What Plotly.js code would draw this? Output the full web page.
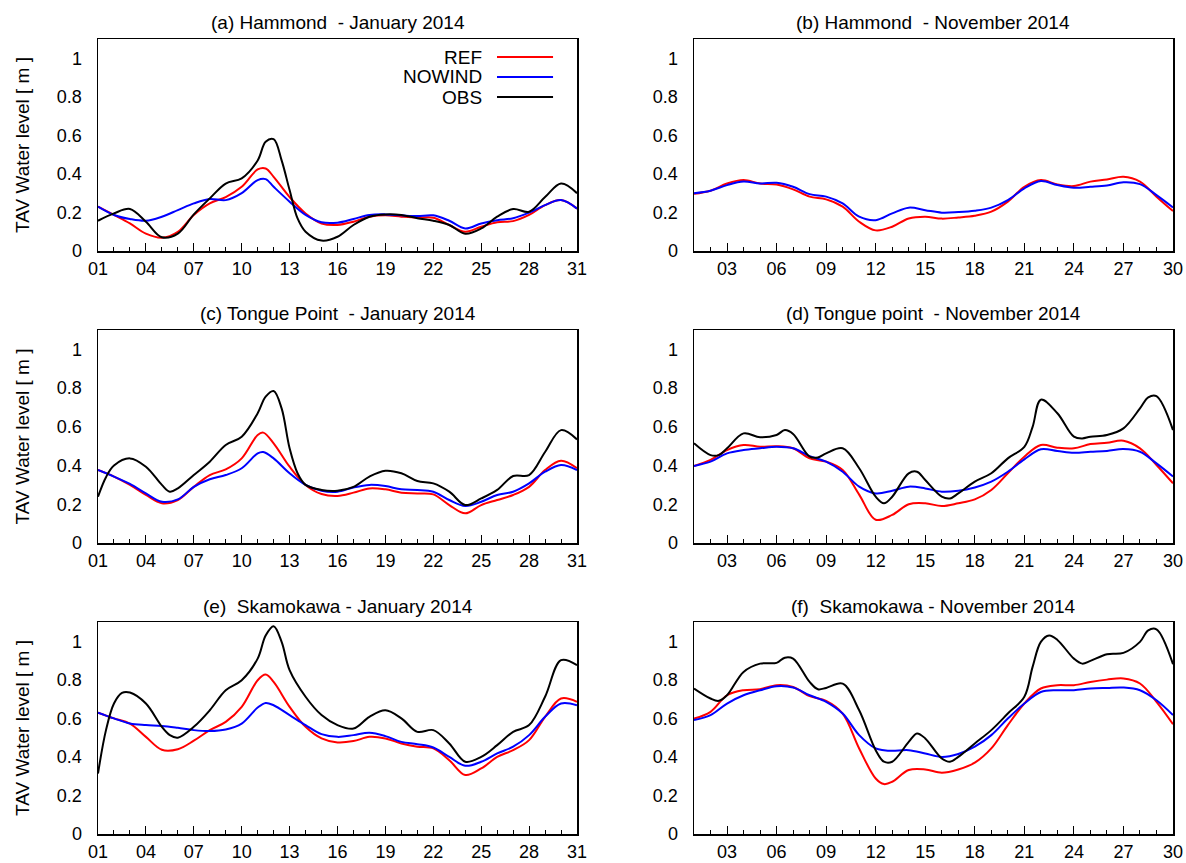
<!DOCTYPE html>
<html>
<head>
<meta charset="utf-8">
<script src="https://cdn.plot.ly/plotly-3.0.1.min.js"></script>
<style>html,body{margin:0;padding:0;background:#fff;}#chart{width:1186px;height:863px;}</style>
</head>
<body>
<div id="chart"></div>
<script>
// ---------- Data ----------
const seriesNames = ["REF", "NOWIND", "OBS"];
const panelTitles = [
  "(a) Hammond  - January 2014",
  "(b) Hammond  - November 2014",
  "(c) Tongue Point  - January 2014",
  "(d) Tongue point  - November 2014",
  "(e)  Skamokawa - January 2014",
  "(f)  Skamokawa - November 2014"
];
const yAxisTitle = "TAV Water level [ m ]";

const janTickVals = [1, 4, 7, 10, 13, 16, 19, 22, 25, 28, 31];
const janTickText = ["01", "04", "07", "10", "13", "16", "19", "22", "25", "28", "31"];
const novTickVals = [3, 6, 9, 12, 15, 18, 21, 24, 27, 30];
const novTickText = ["03", "06", "09", "12", "15", "18", "21", "24", "27", "30"];
const yTickVals = [0, 0.2, 0.4, 0.6, 0.8, 1];
const yTickText = ["0", "0.2", "0.4", "0.6", "0.8", "1"];

// (a) Hammond - January 2014
const aModelDays = [1,2,3,4,5,6,7,8,9,10,11,11.5,12,13,14,15,16,17,18,19,20,21,22,23,24,25,26,27,28,29,30,31];
const aRef = [0.23,0.187,0.143,0.09,0.069,0.10,0.187,0.247,0.28,0.333,0.423,0.428,0.385,0.28,0.195,0.143,0.135,0.152,0.178,0.185,0.178,0.173,0.173,0.135,0.10,0.126,0.149,0.155,0.187,0.238,0.264,0.22];
const aNowind = [0.23,0.187,0.166,0.157,0.178,0.212,0.247,0.27,0.264,0.30,0.368,0.373,0.333,0.256,0.187,0.149,0.147,0.166,0.187,0.19,0.185,0.181,0.185,0.157,0.117,0.143,0.16,0.17,0.199,0.238,0.264,0.22];
const aObsDays = [1,2,3,4,5,6,7,8,9,10,11,11.5,12,12.5,13,13.5,14,15,16,17,18,19,20,21,22,23,24,25,26,27,28,29,30,31];
const aObs = [0.157,0.195,0.218,0.152,0.071,0.09,0.19,0.273,0.35,0.377,0.47,0.567,0.58,0.47,0.316,0.169,0.10,0.054,0.074,0.135,0.178,0.19,0.187,0.17,0.157,0.135,0.09,0.117,0.178,0.218,0.204,0.28,0.35,0.30];

// (b) Hammond - November 2014
const bDays = [1,2,3,4,5,6,7,8,9,10,11,12,13,14,15,16,17,18,19,20,21,22,23,24,25,26,27,28,29,30];
const bRef = [0.297,0.313,0.35,0.368,0.35,0.345,0.32,0.282,0.268,0.23,0.152,0.107,0.126,0.169,0.178,0.168,0.174,0.183,0.204,0.256,0.333,0.368,0.345,0.337,0.36,0.371,0.385,0.36,0.282,0.207];
const bNowind = [0.30,0.313,0.342,0.36,0.35,0.354,0.333,0.295,0.282,0.247,0.178,0.16,0.195,0.225,0.212,0.199,0.202,0.209,0.225,0.264,0.325,0.363,0.342,0.328,0.333,0.34,0.357,0.347,0.29,0.226];

// (c) Tongue Point - January 2014
const cModelDays = [1,2,3,4,5,6,7,8,9,10,11,11.35,12,13,14,15,16,17,18,19,20,21,22,23,24,25,26,27,28,29,30,31];
const cRef = [0.377,0.343,0.30,0.248,0.205,0.222,0.29,0.351,0.38,0.437,0.558,0.57,0.515,0.394,0.30,0.253,0.243,0.26,0.282,0.277,0.26,0.256,0.251,0.196,0.153,0.196,0.222,0.248,0.29,0.377,0.425,0.386];
const cNowind = [0.377,0.343,0.305,0.256,0.213,0.225,0.29,0.329,0.351,0.386,0.463,0.47,0.437,0.36,0.30,0.27,0.265,0.287,0.30,0.294,0.277,0.274,0.265,0.222,0.191,0.213,0.248,0.265,0.308,0.368,0.403,0.377];
const cObsDays = [1,1.5,2,3,4,5,5.5,6,7,8,9,10,11,11.5,12,12.5,13,13.5,14,15,16,17,18,19,20,21,22,23,24,25,26,27,28,29,30,31];
const cObs = [0.239,0.34,0.40,0.437,0.394,0.30,0.265,0.282,0.351,0.42,0.506,0.549,0.67,0.756,0.785,0.695,0.489,0.36,0.30,0.274,0.27,0.29,0.343,0.373,0.36,0.32,0.308,0.265,0.196,0.23,0.274,0.346,0.351,0.47,0.583,0.535];

// (d) Tongue point - November 2014
const dDays = [1,2,3,4,5,6,7,8,9,10,11,12,13,14,15,16,17,18,19,20,21,22,23,24,25,26,27,28,29,30];
const dRef = [0.398,0.429,0.48,0.506,0.497,0.50,0.489,0.437,0.42,0.377,0.25,0.12,0.145,0.20,0.205,0.191,0.205,0.225,0.274,0.36,0.446,0.506,0.492,0.489,0.511,0.518,0.528,0.489,0.403,0.308];
const dNowind = [0.398,0.42,0.463,0.48,0.489,0.497,0.489,0.449,0.42,0.368,0.291,0.256,0.27,0.291,0.282,0.265,0.27,0.287,0.317,0.368,0.432,0.484,0.475,0.466,0.471,0.475,0.485,0.471,0.411,0.343];
const dObsDays = [1,2,2.5,3,4,5,6,6.5,7,8,8.5,9,10,11,12,12.5,13,14,14.5,15,16,16.5,17,18,19,20,21,21.5,22,23,24,24.5,25,26,27,28,28.5,29,30];
const dObs = [0.515,0.454,0.454,0.489,0.566,0.546,0.558,0.583,0.563,0.446,0.442,0.463,0.489,0.386,0.239,0.205,0.239,0.36,0.368,0.325,0.239,0.23,0.256,0.317,0.36,0.437,0.497,0.60,0.74,0.67,0.549,0.54,0.549,0.558,0.592,0.695,0.752,0.758,0.583];

// (e) Skamokawa - January 2014
const eModelDays = [1,2,3,4,5,6,7,8,9,10,11,11.5,12,13,14,15,16,17,18,19,20,21,22,23,24,25,26,27,28,29,30,31];
const eRef = [0.63,0.60,0.573,0.504,0.437,0.44,0.484,0.539,0.582,0.66,0.798,0.827,0.789,0.66,0.556,0.496,0.475,0.482,0.504,0.496,0.47,0.453,0.444,0.383,0.306,0.34,0.40,0.435,0.487,0.608,0.703,0.686];
const eNowind = [0.63,0.60,0.573,0.565,0.561,0.551,0.539,0.534,0.542,0.573,0.656,0.68,0.668,0.617,0.565,0.518,0.504,0.513,0.525,0.508,0.478,0.466,0.449,0.40,0.354,0.375,0.418,0.453,0.513,0.608,0.677,0.668];
const eObsDays = [1,1.5,2,2.5,3,4,5,5.5,6,7,8,9,10,11,11.5,12,12.5,13,14,15,16,17,18,19,20,21,22,23,24,25,26,27,28,29,30,31];
const eObs = [0.314,0.539,0.677,0.732,0.734,0.677,0.556,0.513,0.50,0.556,0.642,0.746,0.798,0.91,1.03,1.078,0.997,0.85,0.712,0.617,0.565,0.547,0.608,0.642,0.60,0.53,0.539,0.47,0.375,0.40,0.461,0.53,0.565,0.712,0.902,0.876];

// (f) Skamokawa - November 2014
const fModelDays = [1,2,3,4,5,6,7,8,9,10,11,12,12.5,13,14,15,16,17,18,19,20,21,22,23,24,25,26,27,28,29,30];
const fRef = [0.599,0.634,0.72,0.746,0.751,0.772,0.763,0.715,0.691,0.625,0.444,0.288,0.259,0.271,0.332,0.335,0.318,0.335,0.37,0.444,0.565,0.677,0.755,0.772,0.772,0.789,0.801,0.807,0.781,0.686,0.57];
const fNowind = [0.591,0.617,0.677,0.72,0.746,0.767,0.76,0.72,0.686,0.625,0.513,0.444,0.435,0.432,0.435,0.418,0.40,0.415,0.453,0.513,0.599,0.677,0.737,0.746,0.746,0.755,0.758,0.76,0.746,0.694,0.617];
const fObsDays = [1,2,2.5,3,4,5,6,6.5,7,8,8.5,9,10,11,12,12.5,13,14,14.5,15,16,16.5,17,18,19,20,21,21.5,22,22.5,23,24,24.5,25,26,27,28,28.5,29,30];
const fObs = [0.755,0.703,0.691,0.72,0.841,0.884,0.888,0.915,0.91,0.789,0.751,0.758,0.78,0.642,0.435,0.375,0.375,0.478,0.522,0.496,0.392,0.375,0.40,0.47,0.539,0.625,0.712,0.867,0.997,1.03,1.007,0.91,0.884,0.898,0.933,0.94,0.997,1.057,1.062,0.881];

// ---------- Styling ----------
const colors = { REF: "#ff0000", NOWIND: "#0000ff", OBS: "#000000" };
const FONT = "Liberation Sans, Arial, Helvetica, sans-serif";
const FS = 19;
const TICKFS = 18;

const panels = [
  { ref: [aModelDays, aRef], now: [aModelDays, aNowind], obs: [aObsDays, aObs], jan: true },
  { ref: [bDays, bRef], now: [bDays, bNowind], obs: null, jan: false },
  { ref: [cModelDays, cRef], now: [cModelDays, cNowind], obs: [cObsDays, cObs], jan: true },
  { ref: [dDays, dRef], now: [dDays, dNowind], obs: [dObsDays, dObs], jan: false },
  { ref: [eModelDays, eRef], now: [eModelDays, eNowind], obs: [eObsDays, eObs], jan: true },
  { ref: [fModelDays, fRef], now: [fModelDays, fNowind], obs: [fObsDays, fObs], jan: false }
];

// plot-area domains in paper fractions (from the 1186x863 reference)
const W = 1186, H = 863;
const colDom = [[98 / W, 577 / W], [694 / W, 1173 / W]];
const rowDom = [[1 - 251 / H, 1 - 39 / H], [1 - 543 / H, 1 - 330 / H], [1 - 834 / H, 1 - 622 / H]];

const traces = [];
const layout = {
  width: W, height: H,
  margin: { l: 0, r: 0, t: 0, b: 0 },
  paper_bgcolor: "#fff", plot_bgcolor: "#fff",
  showlegend: false,
  font: { family: FONT, size: FS, color: "#000" },
  annotations: [], shapes: []
};

panels.forEach((p, i) => {
  const n = i + 1;
  const xa = n === 1 ? "x" : "x" + n;
  const ya = n === 1 ? "y" : "y" + n;
  const col = i % 2, row = Math.floor(i / 2);
  const line = (c) => ({ color: c, width: 2, shape: "spline", smoothing: 1 });
  traces.push({ x: p.ref[0], y: p.ref[1], name: "REF", type: "scatter", mode: "lines", line: line(colors.REF), xaxis: xa, yaxis: ya });
  traces.push({ x: p.now[0], y: p.now[1], name: "NOWIND", type: "scatter", mode: "lines", line: line(colors.NOWIND), xaxis: xa, yaxis: ya });
  if (p.obs) traces.push({ x: p.obs[0], y: p.obs[1], name: "OBS", type: "scatter", mode: "lines", line: line(colors.OBS), xaxis: xa, yaxis: ya });

  layout["xaxis" + (n === 1 ? "" : n)] = {
    domain: colDom[col], anchor: ya,
    range: p.jan ? [1, 31] : [1, 30],
    tickmode: "array",
    tickvals: p.jan ? janTickVals : novTickVals,
    ticktext: p.jan ? janTickText : novTickText,
    ticks: "inside", ticklen: 8, tickwidth: 1, tickcolor: "#000",
    minor: { tick0: 1, dtick: 1, ticks: "inside", ticklen: 4, tickwidth: 1, tickcolor: "#000", showgrid: false },
    showline: true, mirror: true, linecolor: "#000", linewidth: 1.5,
    showgrid: false, zeroline: false,
    tickfont: { family: FONT, size: TICKFS, color: "#000" },
    ticklabelstandoff: 1
  };
  layout["yaxis" + (n === 1 ? "" : n)] = {
    domain: rowDom[row], anchor: xa,
    range: [0, 1.1],
    tickmode: "array", tickvals: yTickVals, ticktext: yTickText,
    ticks: "",
    showline: true, mirror: true, linecolor: "#000", linewidth: 1.5,
    showgrid: false, zeroline: false,
    tickfont: { family: FONT, size: TICKFS, color: "#000" },
    ticklabelstandoff: 11,
    title: col === 0 ? { text: yAxisTitle, font: { family: FONT, size: FS, color: "#000" }, standoff: 22 } : { text: "" }
  };
  layout.annotations.push({
    text: panelTitles[i], showarrow: false,
    xref: xa + " domain", yref: ya + " domain", x: 0.5, y: 1,
    xanchor: "center", yanchor: "middle", yshift: 16,
    font: { family: FONT, size: FS, color: "#000" }
  });
});

// legend (text to the left of line samples) inside panel (a)
const legendY = [0.915, 0.821, 0.726];
seriesNames.forEach((s, k) => {
  layout.annotations.push({
    text: s, showarrow: false, xref: "x domain", yref: "y domain",
    x: 0.806, y: legendY[k], xanchor: "right", yanchor: "middle",
    font: { family: FONT, size: FS, color: "#000" }
  });
  layout.shapes.push({
    type: "line", xref: "x domain", yref: "y domain",
    x0: 0.833, x1: 0.95, y0: legendY[k], y1: legendY[k],
    line: { color: colors[s], width: 2 }
  });
});

Plotly.newPlot("chart", traces, layout, { staticPlot: true, displayModeBar: false });
</script>
</body>
</html>
